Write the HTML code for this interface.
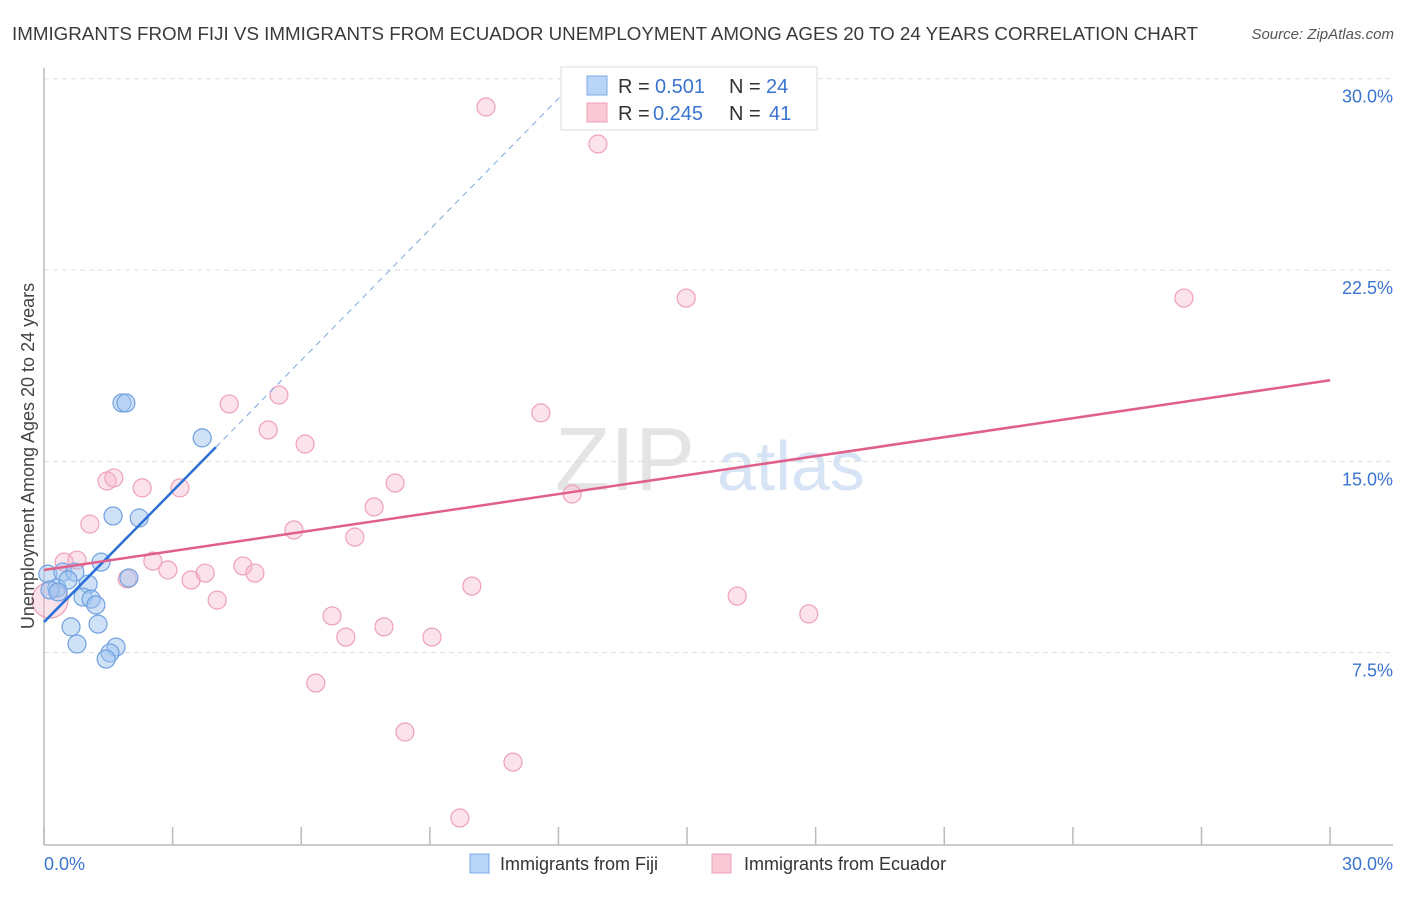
<!DOCTYPE html>
<html><head><meta charset="utf-8"><style>
body{margin:0;background:#fff;font-family:"Liberation Sans",sans-serif;}
svg text{font-family:"Liberation Sans",sans-serif;}
</style></head><body>
<svg id="chart" width="1406" height="892" xmlns="http://www.w3.org/2000/svg">
<text x="12" y="40" font-size="18" fill="#3a3a3a" textLength="1186" lengthAdjust="spacingAndGlyphs">IMMIGRANTS FROM FIJI VS IMMIGRANTS FROM ECUADOR UNEMPLOYMENT AMONG AGES 20 TO 24 YEARS CORRELATION CHART</text>
<text x="1394" y="39" font-size="15" fill="#555" text-anchor="end" font-style="italic">Source: ZipAtlas.com</text>
<g>
<text x="555" y="490" font-size="90" fill="#e4e4e4" font-family="Liberation Serif">ZIP</text>
<text x="717" y="490" font-size="70" fill="#d6e4f5">atlas</text>
</g>
<g id="grid"></g>
<g id="axes"></g>
<g id="marks"></g>
<text transform="translate(34,456) rotate(-90)" font-size="18" fill="#444" text-anchor="middle">Unemployment Among Ages 20 to 24 years</text>
<g>
<rect x="561" y="67" width="256" height="63" fill="#fff" stroke="#ddd"/>
<rect x="587" y="76" width="20" height="19" fill="#b8d4f6" stroke="#7eaae6"/>
<rect x="587" y="103" width="20" height="19" fill="#fbc8d6" stroke="#eea0b8"/>
<text x="618" y="93" font-size="20" fill="#333">R =</text>
<text x="655" y="93" font-size="20" fill="#3a74d0">0.501</text>
<text x="729" y="93" font-size="20" fill="#333">N =</text>
<text x="766" y="93" font-size="20" fill="#3a74d0">24</text>
<text x="618" y="120" font-size="20" fill="#333">R =</text>
<text x="653" y="120" font-size="20" fill="#3a74d0">0.245</text>
<text x="729" y="120" font-size="20" fill="#333">N =</text>
<text x="769" y="120" font-size="20" fill="#3a74d0">41</text>
</g>
<g>
<rect x="470" y="854" width="19" height="19" fill="#b8d4f6" stroke="#7eaae6"/>
<text x="500" y="870" font-size="18" fill="#333">Immigrants from Fiji</text>
<rect x="712" y="854" width="19" height="19" fill="#fbc8d6" stroke="#eea0b8"/>
<text x="744" y="870" font-size="18" fill="#333">Immigrants from Ecuador</text>
</g>
</svg>
<script>
const yTicks=[7.5,15,22.5,30];
const yTickLabels=["7.5%","15.0%","22.5%","30.0%"];
const xTickVals=[0,3,6,9,12,15,18,21,24,27,30];
const fijiX=[1.82,1.91,3.69,1.61,2.22,1.33,1.98,0.09,0.44,0.72,0.30,0.56,1.03,0.91,1.10,1.21,0.63,1.26,0.77,1.68,1.54,1.45,0.14,0.33];
const fijiY=[17.29,17.29,15.92,12.86,12.78,11.05,10.43,10.58,10.66,10.66,10.04,10.35,10.19,9.68,9.60,9.37,8.51,8.62,7.84,7.72,7.49,7.25,9.96,9.88];
const ecuX=[10.31,12.92,14.98,26.59,4.32,5.48,5.23,6.09,11.59,1.47,1.63,2.29,3.17,8.19,1.07,7.70,5.83,12.32,7.25,0.47,0.77,2.54,2.89,3.43,3.76,4.64,4.92,1.94,4.04,9.98,16.17,17.84,6.72,7.04,7.93,9.05,6.34,8.42,10.94,9.70,0.14];
const ecuY=[28.89,27.44,21.40,21.40,17.25,17.60,16.23,15.68,16.90,14.23,14.35,13.96,13.96,14.15,12.54,13.21,12.31,13.72,12.03,11.05,11.13,11.09,10.74,10.35,10.62,10.90,10.62,10.39,9.56,10.11,9.72,9.02,8.94,8.11,8.51,8.11,6.31,4.39,3.21,1.02,9.56];
const fijiTrend=[8.70,1.71];
const ecuTrend=[10.74,0.248];
const NS="http://www.w3.org/2000/svg";
const X=v=>44+v*42.87, Y=v=>844-v*25.51;
function mk(t,a,p){const e=document.createElementNS(NS,t);for(const k in a)e.setAttribute(k,a[k]);document.getElementById(p).appendChild(e);return e;}
yTicks.forEach((t,i)=>{
 const g=mk('line',{x1:44,x2:1393,y1:Y(t),y2:Y(t),stroke:'#ddd','stroke-dasharray':'5,4'},'grid');
 
 
 const l=mk('text',{x:1393,y:Y(t)+24,'font-size':18,fill:'#3a74d0','text-anchor':'end'},'grid');
 l.textContent=yTickLabels[i];
 
 
});
const ax=mk('line',{x1:44,x2:1393,y1:845,y2:845,stroke:'#bbb','stroke-width':1.5},'axes');


const ay=mk('line',{x1:44,x2:44,y1:68,y2:845,stroke:'#bbb','stroke-width':1.5},'axes');


xTickVals.forEach(v=>{
 const t=mk('line',{x1:X(v),x2:X(v),y1:827,y2:845,stroke:'#bbb','stroke-width':1.5},'axes');
 
 
});
const x0=mk('text',{x:44,y:870,'font-size':18,fill:'#3a74d0'},'axes');x0.textContent='0.0%';


const x1=mk('text',{x:1393,y:870,'font-size':18,fill:'#3a74d0','text-anchor':'end'},'axes');x1.textContent='30.0%';


ecuX.forEach((v,i)=>{
 const c=mk('circle',{cx:X(v),cy:Y(ecuY[i]),r:i==40?18:9,fill:'rgba(248,182,202,0.4)',stroke:'#eea0b8','stroke-width':1.2},'marks');
 
 
});
fijiX.forEach((v,i)=>{
 const c=mk('circle',{cx:X(v),cy:Y(fijiY[i]),r:9,fill:'rgba(160,196,240,0.5)',stroke:'#6fa0e0','stroke-width':1.2},'marks');
 
 
});
const fe=4.01, fd=(30-fijiTrend[0])/fijiTrend[1];
const l1=mk('line',{x1:X(fe),y1:Y(fijiTrend[0]+fijiTrend[1]*fe),x2:X(fd),y2:Y(fijiTrend[0]+fijiTrend[1]*fd),stroke:'#7aa6e0','stroke-width':1,'stroke-dasharray':'6,5'},'marks');


const l2=mk('line',{x1:X(0),y1:Y(fijiTrend[0]),x2:X(fe),y2:Y(fijiTrend[0]+fijiTrend[1]*fe),stroke:'#2a6fd6','stroke-width':2.5},'marks');


const l3=mk('line',{x1:X(0),y1:Y(ecuTrend[0]),x2:X(30),y2:Y(ecuTrend[0]+ecuTrend[1]*30),stroke:'#e0608a','stroke-width':2.5},'marks');


</script>
</body></html>
